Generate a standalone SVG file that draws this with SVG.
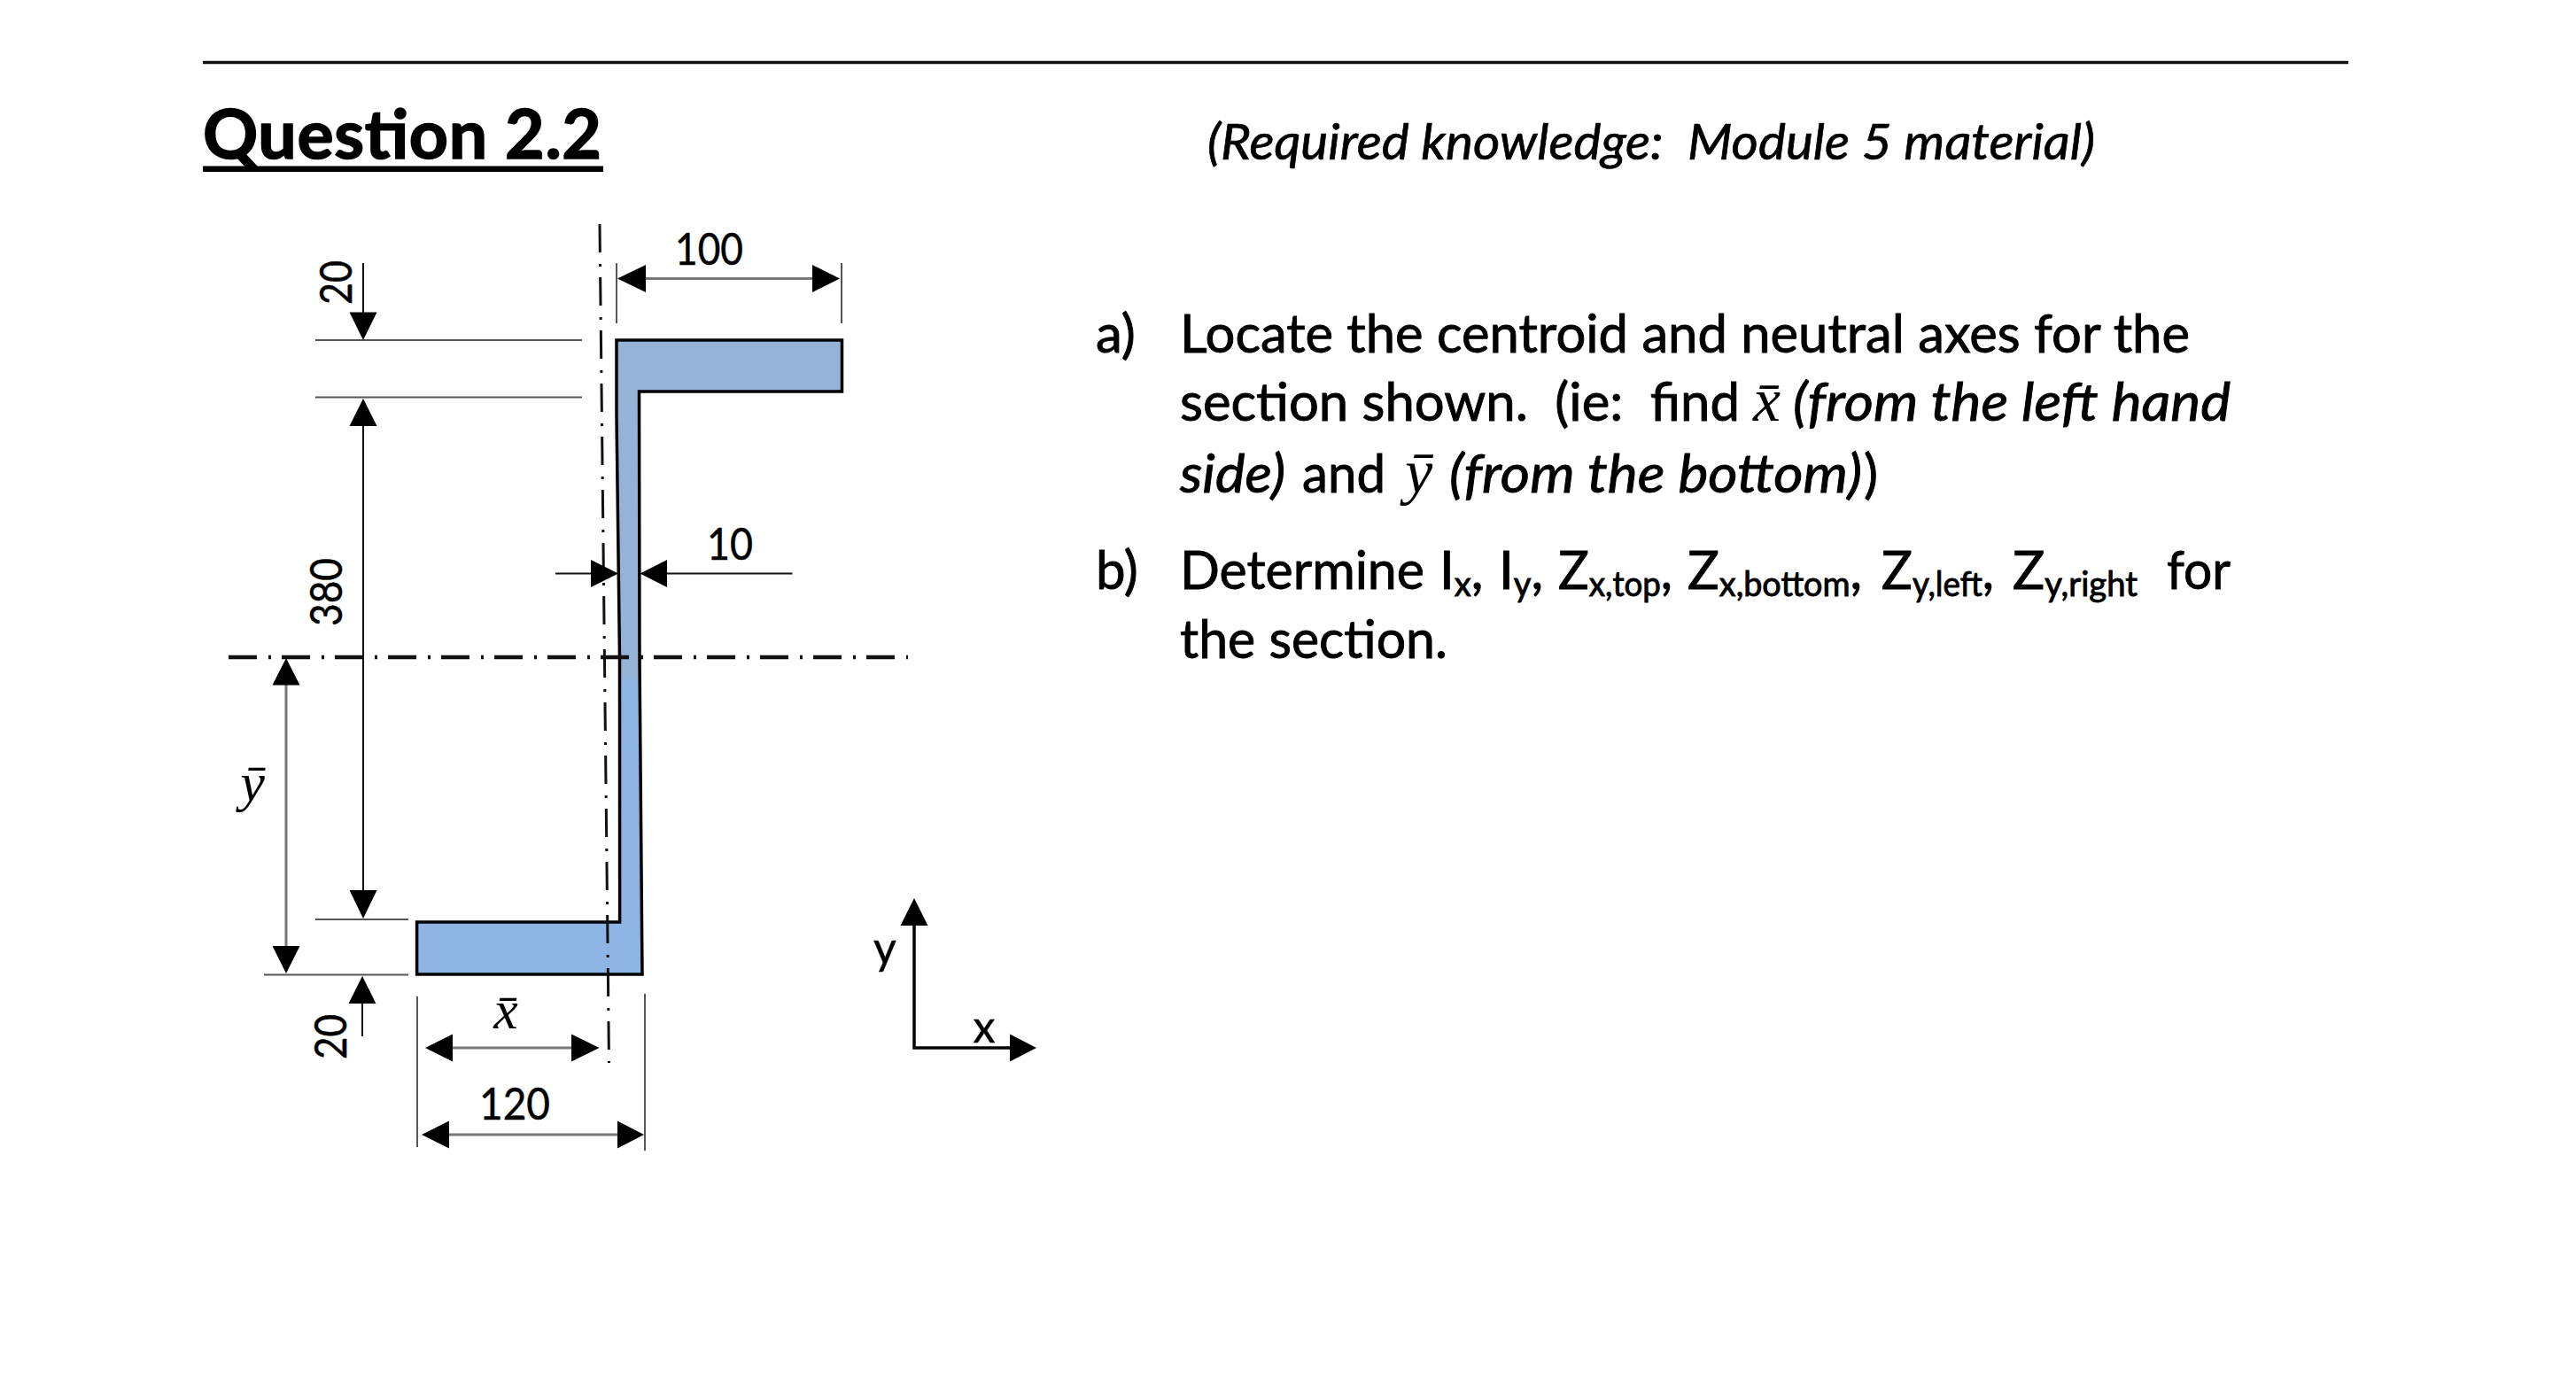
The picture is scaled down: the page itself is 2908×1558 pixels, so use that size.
<svg xmlns="http://www.w3.org/2000/svg" width="2908" height="1558" viewBox="0 0 2908 1558">
<style>
text{font-family:Lato,"Liberation Sans",sans-serif;fill:#000}
.t{font-size:60px;stroke:#000;stroke-width:.9px}
.s{font-size:38px}
.d{font-size:50px;stroke:#000;stroke-width:.5px}
.i{font-style:italic}
.m{font-family:"Liberation Serif",serif;font-style:italic}
.e{stroke:#555;stroke-width:2;fill:none}
.k{stroke:#111;stroke-width:2;fill:none}
.g{stroke:#777;stroke-width:3;fill:none}
.a{fill:#000;stroke:none}
.c{fill:none;stroke:#111;stroke-dasharray:32 13 3 12}
</style>
<defs>
<linearGradient id="fillz" gradientUnits="userSpaceOnUse" x1="0" y1="384" x2="0" y2="1100">
<stop offset="0.53" stop-color="#95B3D7"/><stop offset="0.54" stop-color="#8EB4E3"/>
</linearGradient>
</defs>
<rect width="2908" height="1558" fill="#fff"/>
<g id="rule"><line x1="229" y1="70.5" x2="2651" y2="70.5" stroke="#111" stroke-width="3.5"/></g>
<g id="title"><text x="229" y="179" font-size="77" font-weight="700" stroke="#000" stroke-width="1.6" textLength="450" lengthAdjust="spacing">Question 2.2</text>
<rect x="229" y="187.5" width="452" height="6.500" fill="#000"/></g>
<g id="required"><text x="1363" y="180" class="i" font-size="56" stroke="#000" stroke-width=".7" textLength="1002" lengthAdjust="spacingAndGlyphs" xml:space="preserve">(Required knowledge:  Module 5 material)</text></g>
<g id="section"><path d="M696 384H950.5V442H721.5L722 742L725 1100H470.6V1041H699.6L699.5 742L696 470Z" fill="url(#fillz)" stroke="#000" stroke-width="3.5"/></g>
<g id="connectors">
<path class="c" stroke-width="3" d="M677 253L687.5 1200"/>
<path class="c" stroke-width="4.500" d="M258 742H1025"/>
<path class="e" d="M356 384H657M356 448.5H657M356 1038H461M298 1100.4H461M696 297V365M950 297V365M471 1125V1295M728 1122V1299"/>
<path class="k" d="M410 297V355M410 478V1008M409 1130V1170M627 647.6H670M750 647.6H894.5"/>
<path class="g" d="M323 770V1070M726 314.5H920M508 1183H648M504 1281H700"/>
<path class="a" d="M410 384L394.500 352.500H425.500ZM410 450L394.500 481H425.500ZM410 1037L394.500 1005H425.500ZM409 1102L393.500 1133H424.500ZM323 743L307.500 773.500H338.500ZM323 1099L307.500 1068H338.500ZM697 314.500L729 299V330ZM948 314.500L917 299V330ZM698 647.600L667 632V663ZM722.500 647.600L753 632V663ZM480 1183L511 1167.500V1198.500ZM676.600 1183L645 1167.500V1198.500ZM476 1281L507 1265.500V1296.500ZM727 1281L697 1265.500V1296.500ZM1032 1014L1016.500 1045H1047.500ZM1170 1183L1140 1167.500V1198.500Z"/>
<path d="M1032 1040V1183H1145" fill="none" stroke="#000" stroke-width="3.500"/>
</g>
<g id="labels">
<text class="d" x="762" y="299" textLength="77" lengthAdjust="spacingAndGlyphs">100</text>
<text class="d" x="798" y="632" textLength="52" lengthAdjust="spacingAndGlyphs">10</text>
<text class="d" x="541" y="1264" textLength="80" lengthAdjust="spacingAndGlyphs">120</text>
<text class="d" transform="translate(397 344) rotate(-90)" textLength="50" lengthAdjust="spacingAndGlyphs">20</text>
<text class="d" transform="translate(386 707) rotate(-90)" textLength="77" lengthAdjust="spacingAndGlyphs">380</text>
<text class="d" transform="translate(391 1196) rotate(-90)" textLength="51" lengthAdjust="spacingAndGlyphs">20</text>
<text class="d" x="999" y="1088" text-anchor="middle">y</text>
<text class="d" x="1111" y="1177" text-anchor="middle">x</text>
<text class="m" x="571" y="1161" font-size="62" text-anchor="middle">x̄</text>
<text class="m" x="285" y="904" font-size="62" text-anchor="middle">ȳ</text>
</g>
<g id="body">
<text class="t" x="1237" y="398">a)</text>
<text class="t" x="1332" y="398" textLength="1140" lengthAdjust="spacingAndGlyphs">Locate the centroid and neutral axes for the</text>
<text class="t" x="1332" y="475" textLength="632" lengthAdjust="spacingAndGlyphs" xml:space="preserve">section shown.  (ie:  find</text>
<text class="m" x="1979" y="475" font-size="70">x̄</text>
<text class="t i" x="2024" y="475" textLength="494" lengthAdjust="spacingAndGlyphs">(from the left hand</text>
<text class="t i" x="1332" y="556" textLength="119" lengthAdjust="spacingAndGlyphs">side)</text>
<text class="t" x="1470" y="556" textLength="94" lengthAdjust="spacingAndGlyphs">and</text>
<text class="m" x="1586" y="556" font-size="70">ȳ</text>
<text class="t i" x="1636" y="556" textLength="466" lengthAdjust="spacingAndGlyphs">(from the bottom)</text>
<text class="t" x="2104" y="556">)</text>
<text class="t" x="1237" y="665">b)</text>
<text class="t" x="1332" y="665" textLength="276" lengthAdjust="spacingAndGlyphs">Determine</text>
<text class="t" x="1625" y="665">I<tspan class="s" dy="8">x</tspan><tspan dy="-8">,</tspan></text>
<text class="t" x="1692" y="665">I<tspan class="s" dy="8">y</tspan><tspan dy="-8">,</tspan></text>
<text class="t" x="1759" y="665" textLength="129" lengthAdjust="spacingAndGlyphs">Z<tspan class="s" dy="8">x,top</tspan><tspan dy="-8">,</tspan></text>
<text class="t" x="1905" y="665" textLength="197" lengthAdjust="spacingAndGlyphs">Z<tspan class="s" dy="8">x,bottom</tspan><tspan dy="-8">,</tspan></text>
<text class="t" x="2124" y="665" textLength="127" lengthAdjust="spacingAndGlyphs">Z<tspan class="s" dy="8">y,left</tspan><tspan dy="-8">,</tspan></text>
<text class="t" x="2272" y="665" textLength="141" lengthAdjust="spacingAndGlyphs">Z<tspan class="s" dy="8">y,right</tspan></text>
<text class="t" x="2446" y="665" textLength="72" lengthAdjust="spacingAndGlyphs">for</text>
<text class="t" x="1332" y="743" textLength="302" lengthAdjust="spacingAndGlyphs">the section.</text>
</g>
</svg>
